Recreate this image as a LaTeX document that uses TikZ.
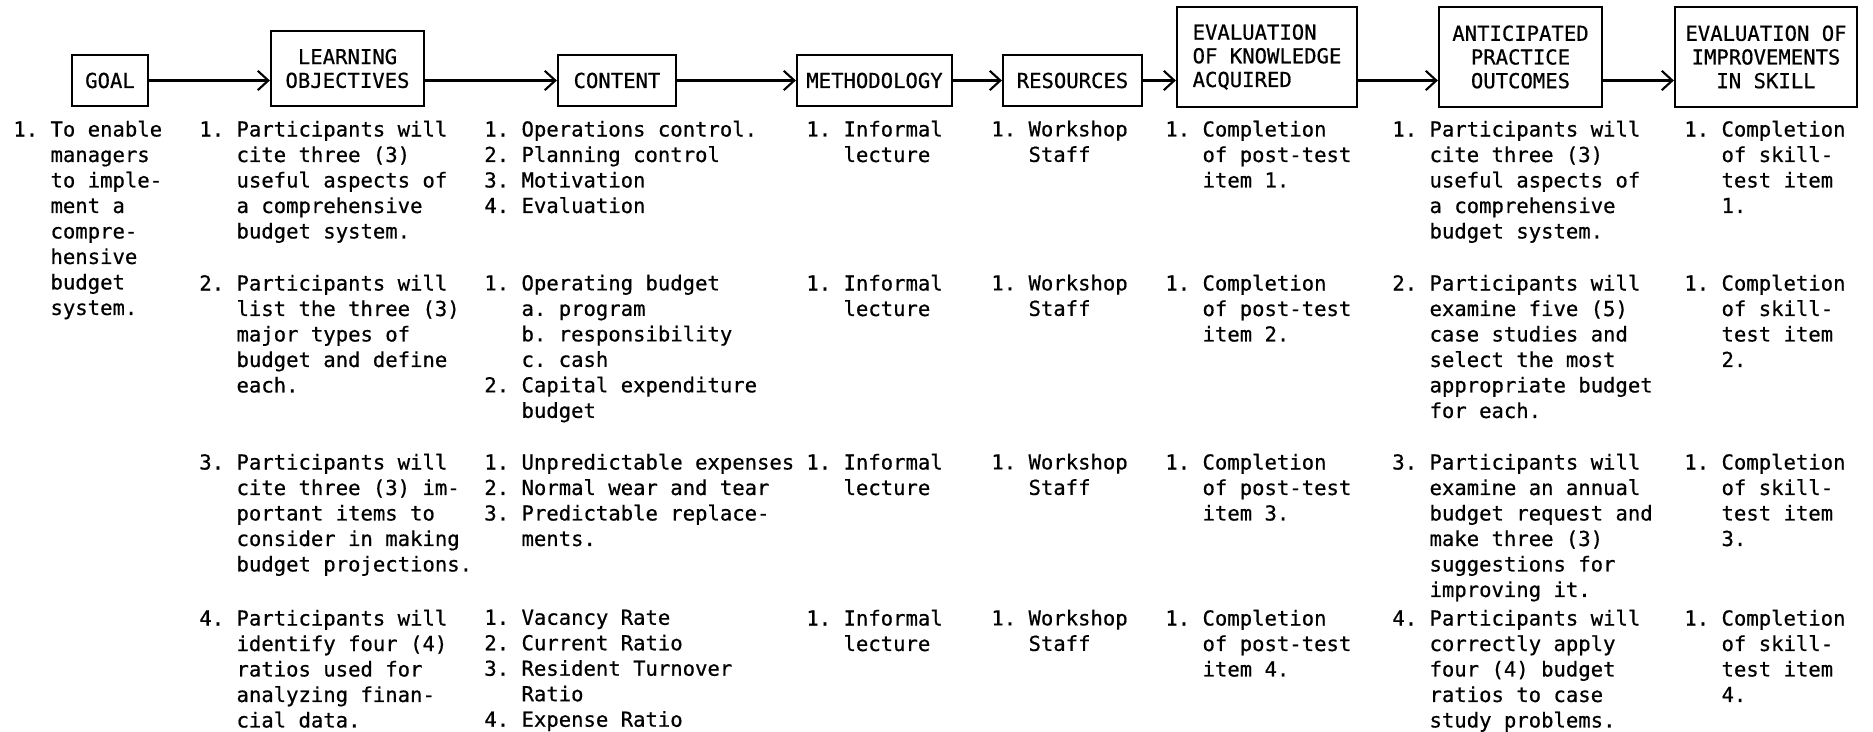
\documentclass[tikz,border=0pt]{standalone}
\usepackage{fontspec}
\newfontfamily\typer[FakeBold=0.6]{DejaVu Sans Mono}
\usetikzlibrary{arrows.meta}
\frenchspacing

\begin{document}
\begin{tikzpicture}[x=0.02cm,y=-0.02cm,
	box/.style={draw,line width=1.3pt,inner sep=0pt,align=center,font=\typer\fontsize{11.72}{13.5}\selectfont},
	tall/.style={box,minimum height=2cm},
	short/.style={box,minimum height=1.02cm},
	txt/.style={anchor=north west,inner sep=0pt,align=left,font=\typer\fontsize{11.72}{14.51}\selectfont},
	flow/.style={line width=1.2pt,-{Straight Barb[length=6pt,width=11pt,line width=1.2pt]}}]
				\useasboundingbox (0,0) rectangle (1873,732);
				% headings
				\node[short,minimum width=1.52cm] (goal) at (110,80.5) {GOAL};
				\node[box,minimum width=3.06cm,minimum height=1.5cm] (obj) at (347.5,68.5) {LEARNING\\OBJECTIVES};
				\node[short,minimum width=2.36cm] (cont) at (617,80.5) {CONTENT};
				\node[short,minimum width=3.1cm] (meth) at (874.5,80.5) {METHODOLOGY};
				\node[short,minimum width=2.78cm] (res) at (1072.5,80.5) {RESOURCES};
				\node[tall,minimum width=3.6cm,align=left] (evk) at (1267,57) {EVALUATION\\OF KNOWLEDGE\\ACQUIRED};
				\node[tall,minimum width=3.26cm] (out) at (1520.5,57) {ANTICIPATED\\PRACTICE\\OUTCOMES};
				\node[tall,minimum width=3.64cm] (evi) at (1766,57) {EVALUATION OF\\IMPROVEMENTS\\IN SKILL};
				\draw[flow] (goal.east) -- (goal.east -| obj.west);
				\draw[flow] (obj.east |- cont.west) -- (cont.west);
				\draw[flow] (cont.east) -- (meth.west);
				\draw[flow] (meth.east) -- (res.west);
				\draw[flow] (res.east) -- (res.east -| evk.west);
				\draw[flow] (evk.east |- res.east) -- (out.west |- res.east);
				\draw[flow] (out.east |- res.east) -- (evi.west |- res.east);
				% goal
				\node[txt] (g1) at (13,120.4) {1. To enable\\~~~managers\\~~~to imple-\\~~~ment a\\~~~compre-\\~~~hensive\\~~~budget\\~~~system.};
				% learning objectives
				\node[txt] (obj1) at (199,120.4) {1. Participants will\\~~~cite three (3)\\~~~useful aspects of\\~~~a comprehensive\\~~~budget system.};
				\node[txt] (obj2) at (199,274.4) {2. Participants will\\~~~list the three (3)\\~~~major types of\\~~~budget and define\\~~~each.};
				\node[txt] (obj3) at (199,453.4) {3. Participants will\\~~~cite three (3) im-\\~~~portant items to\\~~~consider in making\\~~~budget projections.};
				\node[txt] (obj4) at (199,609.4) {4. Participants will\\~~~identify four (4)\\~~~ratios used for\\~~~analyzing finan-\\~~~cial data.};
				% content
				\node[txt] (cont1) at (484,120.4) {1. Operations control.\\2. Planning control\\3. Motivation\\4. Evaluation};
				\node[txt] (cont2) at (484,274.4) {1. Operating budget\\~~~a. program\\~~~b. responsibility\\~~~c. cash\\2. Capital expenditure\\~~~budget};
				\node[txt] (cont3) at (484,453.4) {1. Unpredictable expenses\\2. Normal wear and tear\\3. Predictable replace-\\~~~ments.};
				\node[txt] (cont4) at (484,609.4) {1. Vacancy Rate\\2. Current Ratio\\3. Resident Turnover\\~~~Ratio\\4. Expense Ratio};
				% methodology, resources, evaluation
				\foreach \r/\y in {1/120.4,2/274.4,3/453.4,4/609.4} {
					\node[txt] (meth\r) at (806,\y) {1. Informal\\~~~lecture};
					\node[txt] (res\r) at (991,\y) {1. Workshop\\~~~Staff};
					\node[txt] (evk\r) at (1165,\y) {1. Completion\\~~~of post-test\\~~~item \r.};
					\node[txt] (evi\r) at (1684,\y) {1. Completion\\~~~of skill-\\~~~test item\\~~~\r.};
				}
				% practice outcomes
				\node[txt] (out1) at (1392,120.4) {1. Participants will\\~~~cite three (3)\\~~~useful aspects of\\~~~a comprehensive\\~~~budget system.};
				\node[txt] (out2) at (1392,274.4) {2. Participants will\\~~~examine five (5)\\~~~case studies and\\~~~select the most\\~~~appropriate budget\\~~~for each.};
				\node[txt] (out3) at (1392,453.4) {3. Participants will\\~~~examine an annual\\~~~budget request and\\~~~make three (3)\\~~~suggestions for\\~~~improving it.};
				\node[txt] (out4) at (1392,609.4) {4. Participants will\\~~~correctly apply\\~~~four (4) budget\\~~~ratios to case\\~~~study problems.};
\end{tikzpicture}
\end{document}
